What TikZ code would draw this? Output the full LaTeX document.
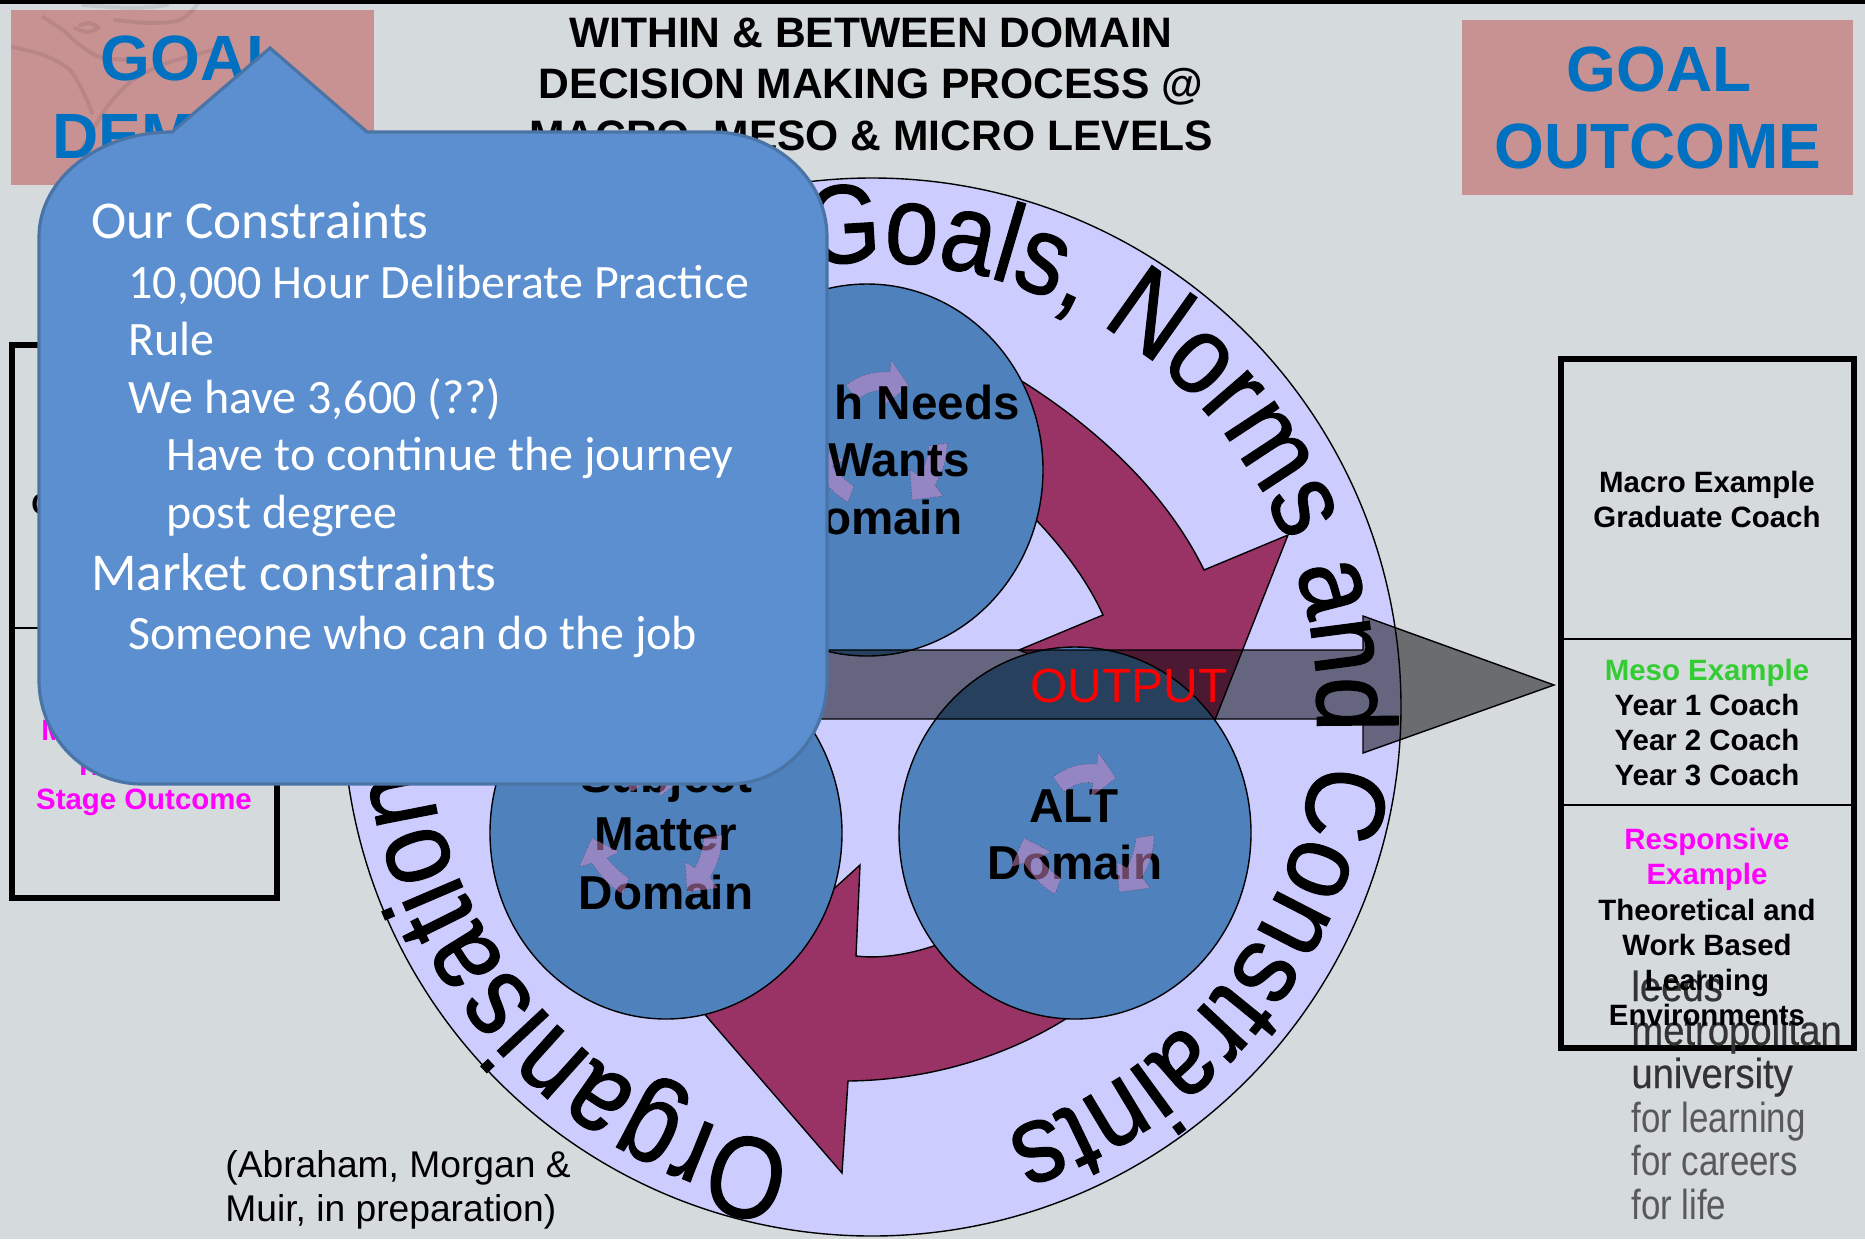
\documentclass[tikz,border=0pt]{standalone}
\usepackage{fontspec}
\setmainfont{Liberation Sans}
\newfontfamily\calloutfont{Carlito}
\newfontfamily\ringfonta[FakeStretch=0.86,FakeBold=1]{Liberation Sans}
\newfontfamily\ringfontc[FakeStretch=0.885,FakeBold=1]{Liberation Sans}
\newfontfamily\ringfontd[FakeStretch=0.90,FakeBold=1]{Liberation Sans}
\newfontfamily\ringfontb[FakeStretch=0.86,FakeBold=1]{Liberation Sans}
\newfontfamily\logofont[FakeStretch=0.91,FakeBold=0.5]{Liberation Sans}
\newfontfamily\logofontb[FakeStretch=0.83]{Liberation Sans}
\usetikzlibrary{decorations.text,calc}
\definecolor{bgc}{HTML}{D5DADD}
\definecolor{pinkc}{HTML}{C89292}
\definecolor{goalc}{HTML}{0070C0}
\definecolor{ringc}{HTML}{CCCCFF}
\definecolor{domc}{HTML}{4F81BD}
\definecolor{maroonc}{HTML}{993366}
\definecolor{callc}{HTML}{5B8FD0}
\definecolor{callbc}{HTML}{4A74A6}
\definecolor{arrc}{RGB}{215,140,200}
\definecolor{mesoc}{HTML}{33CC33}
\definecolor{magc}{HTML}{FF00FF}
\definecolor{redc}{HTML}{FF0000}
\tikzset{
  goalbox/.style={fill=pinkc,draw=none},
  goaltext/.style={text=goalc,anchor=base,inner sep=0pt,font=\fontsize{32}{36}\selectfont\bfseries},
  titletext/.style={text=black,anchor=base,inner sep=0pt,font=\fontsize{21.3}{25}\selectfont\bfseries},
  boxtext/.style={text=black,anchor=base,inner sep=0pt,font=\fontsize{14.7}{17}\selectfont\bfseries},
  domtext/.style={text=black,anchor=base,inner sep=0pt,font=\fontsize{23.8}{28}\selectfont\bfseries},
  domaincircle/.style={fill=domc,draw=black,line width=.7pt},
  bigarrow/.style={fill=maroonc,draw=black,line width=.7pt},
  smallarrow/.style={fill=arrc,fill opacity=.5,draw=black,draw opacity=.5,line width=.3pt,densely dotted},
  framebox/.style={draw=black,line width=3pt},
  frameline/.style={draw=black,line width=1.4pt},
  outband/.style={fill=black,fill opacity=.5,draw=black,line width=.7pt},
  calloutbox/.style={fill=callc,draw=callbc,line width=1.6pt},
  callone/.style={text=white,anchor=base west,inner sep=0pt,font=\calloutfont\fontsize{26.6}{31}\selectfont},
  calltwo/.style={text=white,anchor=base west,inner sep=0pt,font=\calloutfont\fontsize{24}{28}\selectfont},
  citetext/.style={text=black,anchor=base west,inner sep=0pt,font=\fontsize{18.6}{22}\selectfont},
  logodark/.style={text=black!80,anchor=base west,inner sep=0pt,font=\logofont\fontsize{21}{25}\selectfont},
  logolight/.style={text=black!65,anchor=base west,inner sep=0pt,font=\logofontb\fontsize{21}{25}\selectfont},
  swirl/.style={draw=black,draw opacity=.08,line width=2pt,line cap=round}
}
\newcommand{\domainarrows}[2]{%
  \begin{scope}[shift={(#1,#2)}]
    \path[smallarrow] (1053,777) .. controls (1068,766) and (1082,763) .. (1097,764) -- (1098,752) -- (1116,778) -- (1091,797) -- (1093,783) .. controls (1082,781) and (1073,785) .. (1064,792) -- cycle;
    \path[smallarrow] (1154,835) .. controls (1154,852) and (1149,866) .. (1142,877) -- (1150,888) -- (1119,892) -- (1117,862) -- (1127,868) .. controls (1132,858) and (1135,848) .. (1136,838) -- cycle;
    \path[smallarrow] (1061,878) -- (1055,894) .. controls (1043,888) and (1032,876) .. (1024,863) -- (1011,867) -- (1024,838) -- (1051,852) -- (1039,858) .. controls (1044,864) and (1052,873) .. (1061,878) -- cycle;
  \end{scope}}
\begin{document}
\begin{tikzpicture}[x=0.5pt,y=-0.5pt]
\useasboundingbox (0,0) rectangle (1865,1239);
\fill[bgc] (0,0) rectangle (1865,1239);
\fill[black] (0,0) rectangle (1865,4);
% goal boxes
\path[goalbox] (11,10) rectangle (374,185);
\path[goalbox] (1462,20) rectangle (1853,195);
\draw[swirl] plot[smooth] coordinates {(13,47) (43,55) (70,70) (87,100) (92,113)};
\draw[swirl] plot[smooth] coordinates {(43,17) (63,30) (77,43) (100,57) (133,60)};
\draw[swirl] plot[smooth] coordinates {(197,5) (180,20) (150,23) (115,20)};
\draw[swirl] plot[smooth] coordinates {(83,5) (133,8) (167,5)};
\draw[swirl] plot[smooth] coordinates {(213,50) (167,63) (133,80) (107,107) (83,147)};
\draw[swirl] plot[smooth] coordinates {(75,28) (87,32) (98,28) (90,23) (80,25)};
\node[goaltext] (g1) at (193,80) {GOAL};
\node[goaltext] (g2) at (193,158) {DEMAND};
\node[goaltext] (g3) at (1659,91) {GOAL};
\node[goaltext] (g4) at (1658,168) {OUTCOME};
% title
\node[titletext] (t1) at (871,47) {WITHIN \& BETWEEN DOMAIN};
\node[titletext] (t2) at (871,98) {DECISION MAKING PROCESS @};
\node[titletext] (t3) at (871,150) {MACRO, MESO \& MICRO LEVELS};
% left frame
\path[framebox] (12,345) rectangle (277,898);
\path[frameline] (12,628) -- (277,628);
\node[boxtext,anchor=base west] (lc) at (31,514) {C};
\node[boxtext,anchor=base west,text=magc] (lm) at (41,740) {M};
\node[boxtext,anchor=base west,text=magc] (lt) at (74,775) {Tr};
\node[boxtext,text=magc] (ls) at (144,809) {Stage Outcome};
% right frame
\path[framebox] (1561,359) rectangle (1854,1048);
\path[frameline] (1561,639) -- (1854,639);
\path[frameline] (1561,805) -- (1854,805);
\node[boxtext] (r1) at (1707,492) {Macro Example};
\node[boxtext] (r2) at (1707,527) {Graduate Coach};
\node[boxtext,text=mesoc] (r3) at (1707,680) {Meso Example};
\node[boxtext] (r4) at (1707,715) {Year 1 Coach};
\node[boxtext] (r5) at (1707,750) {Year 2 Coach};
\node[boxtext] (r6) at (1707,785) {Year 3 Coach};
\node[boxtext,text=magc] (r7) at (1707,849) {Responsive};
\node[boxtext,text=magc] (r8) at (1707,884) {Example};
\node[boxtext] (r9) at (1707,920) {Theoretical and};
\node[boxtext] (r10) at (1707,955) {Work Based};
\node[logodark] (l1) at (1631,1001) {leeds};
\node[logodark] (l2) at (1631,1045) {metropolitan};
\node[logodark] (l3) at (1631,1088) {university};
\node[logolight] (l4) at (1631,1132) {for learning};
\node[logolight] (l5) at (1631,1175) {for careers};
\node[logolight] (l6) at (1631,1219) {for life};
\node[boxtext] (r11) at (1707,990) {Learning};
\node[boxtext] (r12) at (1707,1025) {Environments};
% ring
\draw[fill=ringc,draw=black,line width=.7pt] (872,707) ellipse [x radius=529,y radius=529];
\path[decorate,decoration={text along path,text={|\ringfontb\fontsize{58}{62}\selectfont|Organisation}}]
  ($(436pt,-353.5pt)+(260:223.5pt)$) arc[start angle=260,end angle=170,radius=223.5pt];
\path[decorate,decoration={text along path,text={|\ringfonta\fontsize{56}{60}\selectfont|Goals,}}]
  ($(436pt,-353.5pt)+(98.3:222.5pt)$) arc[start angle=98.3,end angle=50,radius=222.5pt];
\path[decorate,decoration={text along path,text={|\ringfontc\fontsize{56}{60}\selectfont|Norms and}}]
  ($(436pt,-353.5pt)+(59.2:222.5pt)$) arc[start angle=59.2,end angle=-15,radius=222.5pt];
\path[decorate,decoration={text along path,text={|\ringfontd\fontsize{56}{60}\selectfont|Constraints}}]
  ($(436pt,-353.5pt)+(-7:222.5pt)$) arc[start angle=-7,end angle=-100,radius=222.5pt];
% big arrows
\draw[bigarrow] (1000,368) .. controls (1090,420) and (1165,490) .. (1204,570)
  -- (1288,535) -- (1211,730) -- (1019,650) -- (1103,615)
  .. controls (1085,575) and (1050,530) .. (1010,495) -- cycle;
\draw[bigarrow] (1100,995) .. controls (1030,1050) and (940,1080) .. (848,1081)
  -- (842,1173) -- (701,1010) -- (860,865) -- (856,956)
  .. controls (890,960) and (930,950) .. (960,935) -- cycle;
% domains
\draw[domaincircle] (867,470) ellipse [x radius=176,y radius=186];
\draw[domaincircle] (666,833) ellipse [x radius=176,y radius=186];
\draw[domaincircle] (1075,833) ellipse [x radius=176,y radius=186];
\domainarrows{-207}{-392}
\node[domtext,anchor=base east] (d1) at (1020,419) {h Needs};
\node[domtext,anchor=base east] (d2) at (970,476) {Wants};
\node[domtext] (d3) at (875,534) {Domain};
\node[domtext] (d4) at (666,792) {Subject};
\node[domtext] (d5) at (666,850) {Matter};
\node[domtext] (d6) at (666,909) {Domain};
\domainarrows{-432}{0}
\node[domtext] (d7) at (1074,822) {ALT};
\node[domtext] (d8) at (1075,879) {Domain};
\domainarrows{0}{0}
% output band
\path[outband] (760,650) -- (1363,650) -- (1363,616) -- (1554,685) -- (1363,753) -- (1363,719) -- (760,719) -- cycle;
\node[anchor=base,inner sep=0pt,text=redc,font=\fontsize{24}{28}\selectfont] (out) at (1129,702) {OUTPUT};
% citation
\node[citetext] (c1) at (225,1177) {(Abraham, Morgan \&};
\node[citetext] (c2) at (225,1221) {Muir, in preparation)};
% callout
\draw[calloutbox] (172,132) -- (270,48) -- (367,132) -- (712,132)
  .. controls (776,132) and (827,179) .. (827,237) -- (827,680)
  .. controls (827,737) and (784,784) .. (730,784) -- (142,784)
  .. controls (85,784) and (39,737) .. (39,680) -- (39,237)
  .. controls (39,179) and (98,132) .. (172,132) -- cycle;
\node[callone] (k1) at (91,238) {Our Constraints};
\node[calltwo] (k2) at (128,298) {10,000 Hour Deliberate Practice};
\node[calltwo] (k3) at (128,355) {Rule};
\node[calltwo] (k4) at (128,413) {We have 3,600 (??)};
\node[calltwo] (k5) at (166,470) {Have to continue the journey};
\node[calltwo] (k6) at (166,528) {post degree};
\node[callone] (k7) at (91,590) {Market constraints};
\node[calltwo] (k8) at (128,649) {Someone who can do the job};
\end{tikzpicture}
\end{document}
